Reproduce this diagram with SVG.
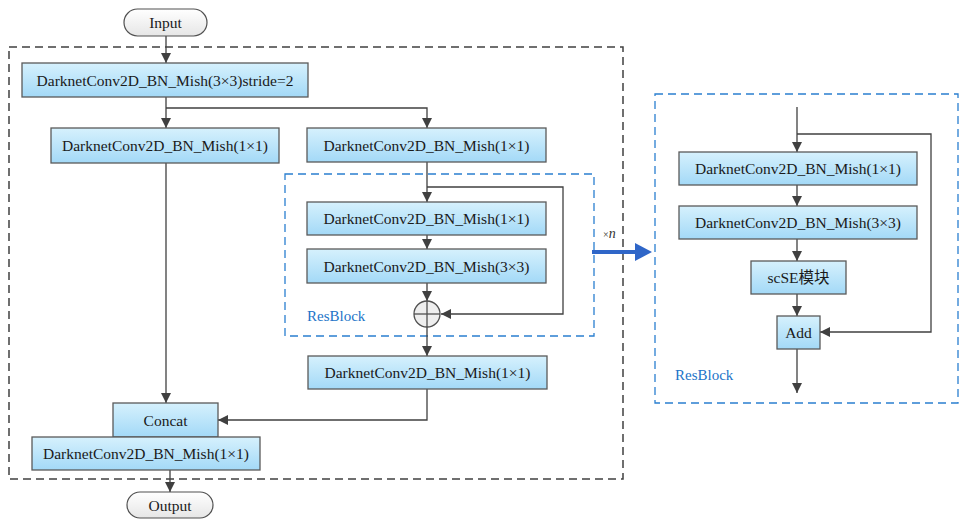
<svg xmlns="http://www.w3.org/2000/svg" width="960" height="519" viewBox="0 0 960 519">
  <defs>
    <linearGradient id="boxFill" x1="0" y1="0" x2="0" y2="1">
      <stop offset="0" stop-color="#d6f1fd"/>
      <stop offset="1" stop-color="#a3d9f7"/>
    </linearGradient>
    <linearGradient id="pillFill" x1="0" y1="0" x2="0" y2="1">
      <stop offset="0" stop-color="#ffffff"/>
      <stop offset="1" stop-color="#e6e6e6"/>
    </linearGradient>
    <marker id="arrow" viewBox="0 0 10 10" refX="10" refY="5" markerWidth="10" markerHeight="10" markerUnits="userSpaceOnUse" orient="auto">
      <path d="M0,0 L10,5 L0,10 z" fill="#404040"/>
    </marker>
    <style>
      .box { fill: url(#boxFill); stroke: #5a5a5a; stroke-width: 1.3; }
      .pill { fill: url(#pillFill); stroke: #505050; stroke-width: 1.2; }
      .lbl { font-family: "Liberation Serif", "Times New Roman", serif; font-size: 15.5px; fill: #1a1a1a; text-anchor: middle; }
      .cjk { font-family: "Liberation Serif", "Noto Sans CJK SC", serif; }
      .wire { fill: none; stroke: #404040; stroke-width: 1.3; }
      .frame { fill: none; stroke: #404040; stroke-width: 1.5; stroke-dasharray: 8 5; }
      .blueframe { fill: none; stroke: #2a7fd0; stroke-width: 1.3; stroke-dasharray: 8 5; }
      .bluelbl { font-family: "Liberation Serif", "Times New Roman", serif; font-size: 15px; fill: #2274c8; }
    </style>
  </defs>

  <rect width="960" height="519" fill="#ffffff"/>

  <!-- frames -->
  <rect class="frame" x="9" y="47" width="614" height="432"/>
  <rect class="blueframe" x="285" y="174" width="309" height="162"/>
  <rect class="blueframe" x="655" y="94" width="303" height="309"/>
  <text class="bluelbl" x="307" y="321">ResBlock</text>
  <text class="bluelbl" x="675" y="380">ResBlock</text>

  <!-- connectors -->
  <g id="connectors">
    <line class="wire" x1="166" y1="36" x2="166" y2="63" marker-end="url(#arrow)"/>
    <line class="wire" x1="166" y1="97" x2="166" y2="128" marker-end="url(#arrow)"/>
    <polyline class="wire" points="166,108 427,108 427,128" marker-end="url(#arrow)"/>
    <line class="wire" x1="166" y1="163" x2="166" y2="403" marker-end="url(#arrow)"/>
    <line class="wire" x1="427" y1="162" x2="427" y2="202" marker-end="url(#arrow)"/>
    <polyline class="wire" points="427,187 563,187 563,314 441,314" marker-end="url(#arrow)"/>
    <line class="wire" x1="427" y1="235" x2="427" y2="249" marker-end="url(#arrow)"/>
    <line class="wire" x1="427" y1="283" x2="427" y2="301" marker-end="url(#arrow)"/>
    <line class="wire" x1="427" y1="327" x2="427" y2="356" marker-end="url(#arrow)"/>
    <polyline class="wire" points="427,389 427,420 218,420" marker-end="url(#arrow)"/>
    <line class="wire" x1="170" y1="470" x2="170" y2="492" marker-end="url(#arrow)"/>

    <line class="wire" x1="797" y1="107" x2="797" y2="152" marker-end="url(#arrow)"/>
    <polyline class="wire" points="797,134 931,134 931,332 820,332" marker-end="url(#arrow)"/>
    <line class="wire" x1="797" y1="185" x2="797" y2="206" marker-end="url(#arrow)"/>
    <line class="wire" x1="797" y1="239" x2="797" y2="261" marker-end="url(#arrow)"/>
    <line class="wire" x1="797" y1="294" x2="797" y2="316" marker-end="url(#arrow)"/>
    <line class="wire" x1="797" y1="349" x2="797" y2="393" marker-end="url(#arrow)"/>

    <!-- repeat arrow -->
    <line x1="592" y1="252" x2="636" y2="252" stroke="#2f66c8" stroke-width="4"/>
    <path d="M635,243 L652,252 L635,261 z" fill="#2f66c8"/>
    <text x="603" y="238" font-family="Liberation Serif, serif" font-size="10px" fill="#333">×<tspan font-size="14px" font-style="italic">n</tspan></text>
  </g>

  <g id="input">
    <rect class="pill" x="124" y="9" width="83" height="27" rx="13.5"/>
    <text class="lbl" x="165.5" y="28">Input</text>
  </g>
  <g id="conv-stride">
    <rect class="box" x="22" y="63" width="286" height="34"/>
    <text class="lbl" x="165" y="85.5">DarknetConv2D_BN_Mish(3×3)stride=2</text>
  </g>
  <g id="conv-left">
    <rect class="box" x="51" y="128" width="228" height="35"/>
    <text class="lbl" x="165" y="151">DarknetConv2D_BN_Mish(1×1)</text>
  </g>
  <g id="conv-right">
    <rect class="box" x="307" y="128" width="239" height="34"/>
    <text class="lbl" x="426.5" y="150.5">DarknetConv2D_BN_Mish(1×1)</text>
  </g>
  <g id="res-conv1">
    <rect class="box" x="307" y="202" width="239" height="33"/>
    <text class="lbl" x="426.5" y="224">DarknetConv2D_BN_Mish(1×1)</text>
  </g>
  <g id="res-conv3">
    <rect class="box" x="307" y="249" width="239" height="34"/>
    <text class="lbl" x="426.5" y="271.5">DarknetConv2D_BN_Mish(3×3)</text>
  </g>
  <g id="res-add">
    <circle cx="427" cy="314" r="13" fill="#eeeeee" stroke="#505050" stroke-width="1.3"/>
    <line x1="414" y1="314" x2="440" y2="314" stroke="#505050" stroke-width="1.3"/>
    <line x1="427" y1="301" x2="427" y2="327" stroke="#505050" stroke-width="1.3"/>
  </g>
  <g id="conv-after">
    <rect class="box" x="308" y="356" width="239" height="33"/>
    <text class="lbl" x="427.5" y="378">DarknetConv2D_BN_Mish(1×1)</text>
  </g>
  <g id="concat">
    <rect class="box" x="113" y="403" width="105" height="34"/>
    <text class="lbl" x="165.5" y="425.5">Concat</text>
  </g>
  <g id="conv-final">
    <rect class="box" x="32" y="437" width="228" height="33"/>
    <text class="lbl" x="146" y="459">DarknetConv2D_BN_Mish(1×1)</text>
  </g>
  <g id="output">
    <rect class="pill" x="127" y="492" width="86" height="26" rx="13"/>
    <text class="lbl" x="170" y="510.5">Output</text>
  </g>

  <g id="rb-conv1">
    <rect class="box" x="679" y="152" width="238" height="33"/>
    <text class="lbl" x="798" y="174">DarknetConv2D_BN_Mish(1×1)</text>
  </g>
  <g id="rb-conv3">
    <rect class="box" x="679" y="206" width="238" height="33"/>
    <text class="lbl" x="798" y="228">DarknetConv2D_BN_Mish(3×3)</text>
  </g>
  <g id="rb-scse">
    <rect class="box" x="751" y="261" width="95" height="33"/>
    <text class="lbl cjk" x="798.5" y="283">scSE模块</text>
  </g>
  <g id="rb-add">
    <rect class="box" x="777" y="316" width="43" height="33"/>
    <text class="lbl" x="798.5" y="338">Add</text>
  </g>
</svg>
